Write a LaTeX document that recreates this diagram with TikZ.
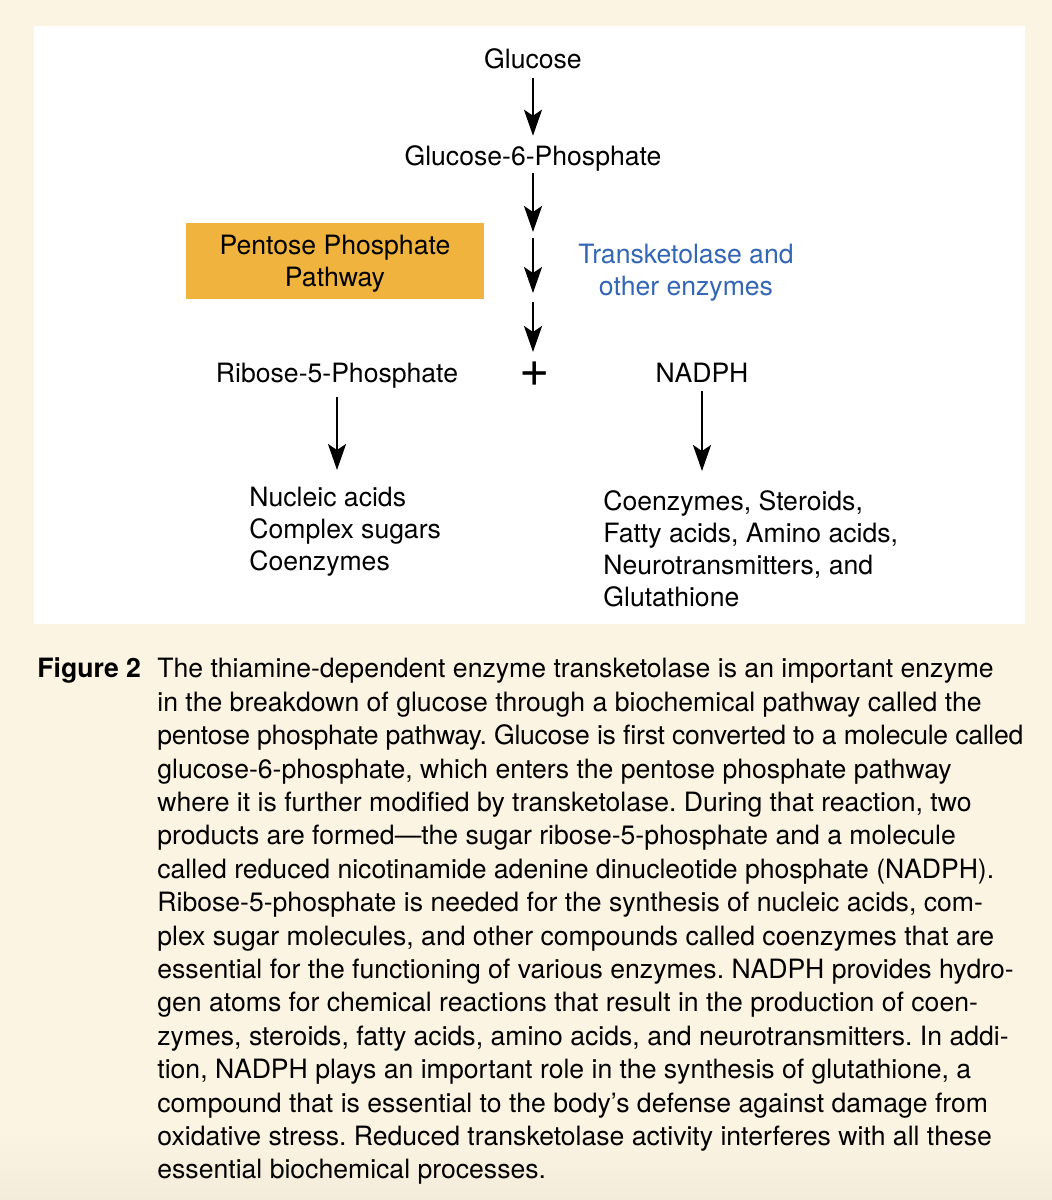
\documentclass[tikz,border=0pt]{standalone}
\usepackage{fontspec}
\setmainfont{TeX Gyre Heros}
\usetikzlibrary{arrows.meta}

\definecolor{paper}{HTML}{FCF4E2}
\definecolor{paperlow}{HTML}{F4ECDA}
\definecolor{pppbox}{HTML}{EFB33E}
\definecolor{enzblue}{HTML}{3366B4}

\begin{document}
\frenchspacing
\begin{tikzpicture}[x=0.5pt,y=-0.5pt,>={Stealth[length=13pt,width=9pt,inset=3pt]},
  every node/.style={font=\fontsize{13.3}{16}\selectfont,inner sep=4.5pt},
  arr/.style={->,line width=1.3pt},
  capfont/.style={font=\fontsize{13.3}{16.7}\selectfont}]
  \fill[paper] (0,0) rectangle (1052,1200);
  \shade[top color=paper,bottom color=paperlow] (0,1130) rectangle (1052,1200);
  \fill[white] (34,26) rectangle (1025,624);
  % main line
  \node[anchor=base] (glc) at (533,68) {Glucose};
  \node[anchor=base] (g6p) at (533,165) {Glucose-6-Phosphate};
  \node[font=\fontsize{26}{26}\selectfont] (plus) at (535,374) {+};
  \draw[arr] (glc) -- (g6p);
  \coordinate (k1) at (533,173);
  \coordinate (k2) at (533,232);
  \coordinate (k3) at (533,238);
  \coordinate (k4) at (533,293);
  \coordinate (k5) at (533,302);
  \coordinate (k6) at (533,352);
  \draw[arr] (k1) -- (k2);
  \draw[arr] (k3) -- (k4);
  \draw[arr] (k5) -- (k6);
  \node[fill=pppbox,inner ysep=0pt,minimum width=149pt,minimum height=38pt,align=center] (ppp) at (335,261)
    {\rule{0pt}{12.6pt}Pentose Phosphate\\Pathway};
  \node[text=enzblue,align=center] (enz) at (686,273) {Transketolase and\\other enzymes};
  % products
  \node[anchor=base] (rib) at (337,382) {Ribose-5-Phosphate};
  \node[anchor=base] (nadph) at (702,382) {NADPH};
  \coordinate (ribend) at (337,470);
  \coordinate (nadend) at (702,471);
  \draw[arr] (rib) -- (ribend);
  \draw[arr] (nadph) -- (nadend);
  \node[anchor=west,align=left,inner sep=0pt] (ribuse) at (249,532)
    {Nucleic acids\\Complex sugars\\Coenzymes};
  \node[anchor=west,align=left,inner sep=0pt] (naduse) at (603,549)
    {Coenzymes, Steroids,\\Fatty acids, Amino acids,\\Neurotransmitters, and\\Glutathione};
  % caption
  \node[anchor=base west,inner sep=0pt,font=\fontsize{13.3}{16.7}\selectfont\bfseries] (fig) at (37,677) {Figure 2};
  \node[anchor=north west,align=left,inner sep=0pt,capfont] (cap) at (157,658)
    {The thiamine-dependent enzyme transketolase is an important enzyme\\
     in the breakdown of glucose through a biochemical pathway called the\\
     {\addfontfeature{LetterSpace=-1.1}pentose phosphate pathway. Glucose is first converted to a molecule called}\\
     glucose-6-phosphate, which enters the pentose phosphate pathway\\
     where it is further modified by transketolase. During that reaction, two\\
     products are formed—the sugar ribose-5-phosphate and a molecule\\
     called reduced nicotinamide adenine dinucleotide phosphate (NADPH).\\
     Ribose-5-phosphate is needed for the synthesis of nucleic acids, com-\\
     plex sugar molecules, and other compounds called coenzymes that are\\
     essential for the functioning of various enzymes. NADPH provides hydro-\\
     gen atoms for chemical reactions that result in the production of coen-\\
     zymes, steroids, fatty acids, amino acids, and neurotransmitters. In addi-\\
     tion, NADPH plays an important role in the synthesis of glutathione, a\\
     compound that is essential to the body’s defense against damage from\\
     oxidative stress. Reduced transketolase activity interferes with all these\\
     essential biochemical processes.};
\end{tikzpicture}
\end{document}
